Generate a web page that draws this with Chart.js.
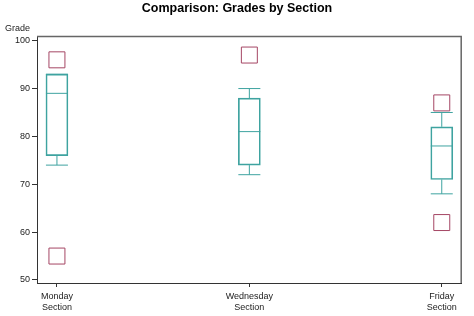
<!DOCTYPE html>
<html>
<head>
<meta charset="utf-8">
<script src="https://cdn.jsdelivr.net/npm/chart.js@4"></script>
<style>
  body { margin: 0; background: #fff; }
</style>
</head>
<body>
<canvas id="myChart" width="474" height="316"></canvas>
<script>
// sections on the x axis (two line labels)
const sections = [['Monday', 'Section'], ['Wednesday', 'Section'], ['Friday', 'Section']];
// box plot stats
const whiskerLow = [74, 72, 68];
const q1 = [76, 74, 71];
const median = [89, 81, 78];
const q3 = [93, 88, 82];
const whiskerHigh = [93, 90, 85];
// outliers: which section and the grade
const outlierSection = [0, 0, 1, 2, 2];
const outlierGrade = [96, 55, 97, 87, 62];
const yTicks = [50, 60, 70, 80, 90, 100];

const TEAL = 'rgb(62, 163, 160)';
const MAROON = 'rgb(165, 70, 100)';
const AXIS = '#333';
const FONT = '"Liberation Sans", Arial, sans-serif';

// side margin so the outer boxes sit 20px inside the frame
const xPad = 40 / 386;

// whisker stems, broken into pieces with null points
let stems = [];
for (let i = 0; i < sections.length; i++) {
  stems.push({x: i, y: whiskerLow[i]}, {x: i, y: q1[i]}, {x: i, y: null});
  stems.push({x: i, y: q3[i]}, {x: i, y: whiskerHigh[i]}, {x: i, y: null});
}

// whisker caps + medians, drawn as short horizontal line points
let ticksPts = [];
for (let i = 0; i < sections.length; i++) {
  ticksPts.push({x: i, y: whiskerLow[i]}, {x: i, y: whiskerHigh[i]}, {x: i, y: median[i]});
}

const data = {
  datasets: [
    {
      type: 'bar',
      data: sections.map((s, i) => ({x: i, y: [q1[i], q3[i]]})),
      backgroundColor: 'rgba(0,0,0,0)',
      borderColor: TEAL,
      borderWidth: 1,
      borderSkipped: false,
      barThickness: 22
    },
    {
      type: 'line',
      data: stems,
      borderColor: TEAL,
      borderWidth: 1,
      pointRadius: 0,
      spanGaps: false
    },
    {
      type: 'line',
      data: ticksPts,
      showLine: false,
      pointStyle: 'line',
      pointRadius: 11,
      pointBorderColor: TEAL,
      pointBorderWidth: 1
    },
    {
      type: 'line',
      data: outlierGrade.map((g, i) => ({x: outlierSection[i], y: g})),
      showLine: false,
      pointStyle: 'rect',
      pointRadius: 11.3,
      pointBackgroundColor: 'rgba(0,0,0,0)',
      pointBorderColor: MAROON,
      pointBorderWidth: 1
    }
  ]
};

// top and right frame lines + the "Grade" label
const framePlugin = {
  id: 'frame',
  afterDraw(chart) {
    const ctx = chart.ctx;
    const a = chart.chartArea;
    ctx.save();
    ctx.strokeStyle = '#666';
    ctx.lineWidth = 1.5;
    ctx.beginPath();
    ctx.moveTo(a.left, a.top + 0.5);
    ctx.lineTo(a.right - 0.5, a.top + 0.5);
    ctx.lineTo(a.right - 0.5, a.bottom);
    ctx.stroke();
    ctx.fillStyle = '#222';
    ctx.font = '9px ' + FONT;
    ctx.textBaseline = 'alphabetic';
    ctx.fillText('Grade', 5, 31);
    ctx.restore();
  }
};

const config = {
  type: 'bar',
  data: data,
  options: {
    responsive: false,
    animation: false,
    events: [],
    layout: {
      padding: 0
    },
    plugins: {
      legend: {display: false},
      tooltip: {enabled: false},
      title: {
        display: true,
        text: 'Comparison: Grades by Section',
        color: '#000',
        font: {family: FONT, size: 12.5, weight: 'bold', lineHeight: 1.2},
        padding: {top: 1, bottom: 20}
      }
    },
    scales: {
      x: {
        type: 'linear',
        offset: false,
        min: -xPad,
        max: 2 + xPad,
        afterBuildTicks: (scale) => { scale.ticks = sections.map((s, i) => ({value: i})); },
        afterFit: (scale) => { scale.height = 33; },
        grid: {display: true, offset: false, drawOnChartArea: false, drawTicks: true, tickLength: 4, color: AXIS},
        border: {display: true, color: AXIS, width: 1},
        ticks: {
          maxRotation: 0,
          autoSkip: false,
          padding: 4,
          color: '#222',
          font: {family: FONT, size: 9, lineHeight: 1.22},
          callback: (v) => sections[v] || ''
        }
      },
      y: {
        min: 49.37,
        max: 100.98,
        afterBuildTicks: (scale) => { scale.ticks = yTicks.map(v => ({value: v})); },
        afterFit: (scale) => { scale.width = 37; },
        grid: {display: true, drawOnChartArea: false, drawTicks: true, tickLength: 5, color: AXIS},
        border: {display: true, color: AXIS, width: 1},
        ticks: {
          padding: 2,
          color: '#222',
          font: {family: FONT, size: 9}
        }
      },
      // empty right axis, only keeps an 11px margin right of the frame
      yRight: {
        position: 'right',
        grid: {display: false},
        border: {display: false},
        ticks: {display: false},
        afterFit: (scale) => { scale.width = 11; }
      }
    }
  },
  plugins: [framePlugin]
};

const myChart = new Chart(document.getElementById('myChart'), config);
</script>
</body>
</html>
